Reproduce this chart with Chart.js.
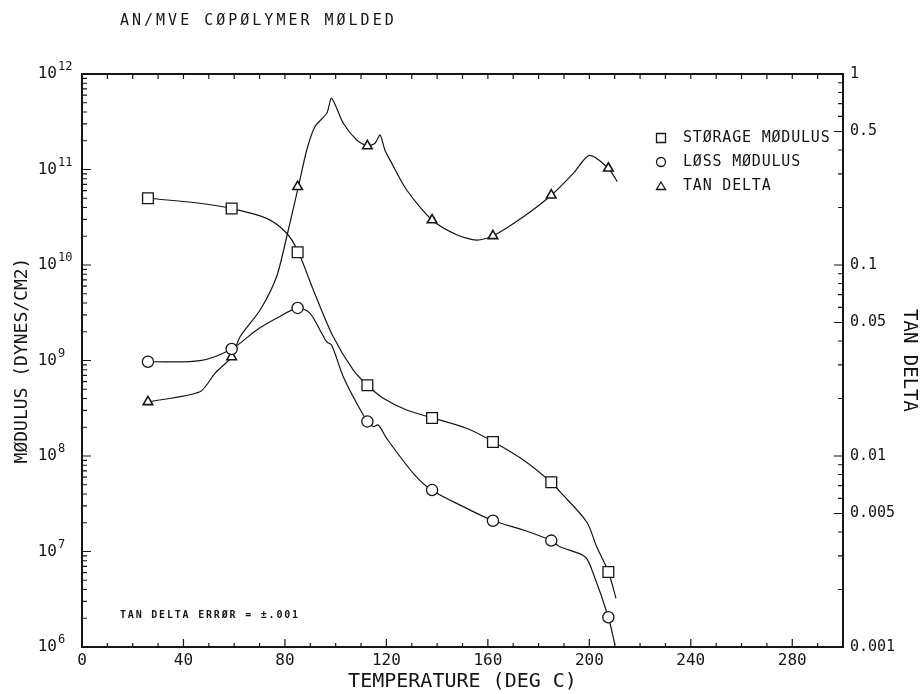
<!DOCTYPE html>
<html>
<head>
<meta charset="utf-8">
<script src="https://cdn.jsdelivr.net/npm/chart.js@4.4.1/dist/chart.umd.min.js"></script>
<style>
    html, body { margin: 0; padding: 0; background: #fff; }
    #wrap { width: 924px; height: 694px; }
</style>
</head>
<body>
<div id="wrap"><canvas id="dma-chart" width="924" height="694"></canvas></div>
<script>
// AN/MVE copolymer, molded - dynamic mechanical scan

const markerTemps = [26, 59, 85, 112.5, 138, 162, 185, 207.5];
const storageMarks = [5.0e10, 3.9e10, 1.36e10, 5.5e8, 2.5e8, 1.4e8, 5.3e7, 6.1e6];
const lossMarks = [9.7e8, 1.32e9, 3.55e9, 2.3e8, 4.4e7, 2.1e7, 1.3e7, 2.05e6];
const tanMarks = [0.0192, 0.033, 0.257, 0.42, 0.172, 0.142, 0.232, 0.321];

const storageCurveT = [26, 46.5, 59, 72.8, 80.7, 85.3, 91.2, 99, 106.9, 112.5, 118.6, 128, 137.8, 151.6, 162.1, 174, 185, 188.4, 198.9, 202.9, 207.5, 210.5];
const storageCurve = [5.0e10, 4.43e10, 3.9e10, 3.08e10, 2.15e10, 1.36e10, 5.47e9, 1.78e9, 7.96e8, 5.5e8, 4.05e8, 3.03e8, 2.52e8, 1.95e8, 1.41e8, 9.08e7, 5.3e7, 4.23e7, 2.05e7, 1.12e7, 6.14e6, 3.24e6];

const lossCurveT = [26, 46.5, 59, 68.9, 76.7, 85.3, 89.9, 94.5, 96.5, 98.4, 103, 108.3, 112.5, 114.8, 116.8, 120.1, 130.6, 137.8, 150.3, 162.1, 174, 185, 188.4, 198.3, 201.5, 207.5, 210.1];
const lossCurve = [9.7e8, 9.95e8, 1.32e9, 2.09e9, 2.77e9, 3.55e9, 3.12e9, 1.93e9, 1.57e9, 1.45e9, 6.77e8, 3.56e8, 2.3e8, 2.03e8, 2.11e8, 1.53e8, 6.59e7, 4.4e7, 2.95e7, 2.1e7, 1.68e7, 1.3e7, 1.12e7, 8.83e6, 5.91e6, 2.05e6, 1.05e6];

const tanCurveT = [26, 46.5, 52.4, 59, 62.3, 70.2, 76.7, 80.7, 85.3, 88.6, 91.8, 96.5, 98.4, 103, 108.3, 112.5, 115.5, 117.5, 119.4, 121.4, 128, 138, 147.7, 155.6, 162, 174, 185, 193.7, 200, 207.5, 211];
const tanCurve = [0.0192, 0.0217, 0.0271, 0.033, 0.0421, 0.0581, 0.0868, 0.1406, 0.257, 0.400, 0.530, 0.623, 0.746, 0.552, 0.451, 0.42, 0.434, 0.479, 0.400, 0.355, 0.247, 0.172, 0.144, 0.135, 0.142, 0.179, 0.232, 0.302, 0.375, 0.321, 0.273];

const xTicks = [0, 40, 80, 120, 160, 200, 240, 280];
const modulusTicks = [1e6, 1e7, 1e8, 1e9, 1e10, 1e11, 1e12];
const tanTicks = [0.001, 0.005, 0.01, 0.05, 0.1, 0.5, 1];

const INK = '#151515';
const MONO = "'DejaVu Sans Mono', 'Liberation Mono', monospace";

function toXY(xs, ys) {
    return xs.map((x, i) => ({ x: x, y: ys[i] }));
}

// frame, inward tick marks, exponents, title, legend and the little note
const plotDecor = {
    id: 'plotDecor',
    afterDraw(chart) {
        const { ctx, chartArea: a, scales } = chart;
        const xs = scales.x, yl = scales.y, yr = scales.yTan;
        ctx.save();
        ctx.strokeStyle = INK;
        ctx.fillStyle = INK;

        ctx.lineWidth = 1.2;
        ctx.beginPath();
        for (let t = 0; t <= 300; t += 10) {
            const px = xs.getPixelForValue(t);
            const len = t % 40 === 0 ? 8 : 4;
            ctx.moveTo(px, a.bottom); ctx.lineTo(px, a.bottom - len);
            ctx.moveTo(px, a.top); ctx.lineTo(px, a.top + 5);
        }
        for (let d = 6; d < 12; d++) {
            for (let m = 1; m <= 9; m++) {
                const py = yl.getPixelForValue(m * Math.pow(10, d));
                ctx.moveTo(a.left, py); ctx.lineTo(a.left + (m === 1 ? 9 : 5), py);
            }
        }
        for (let d = -3; d < 0; d++) {
            for (let m = 1; m <= 9; m++) {
                const py = yr.getPixelForValue(m * Math.pow(10, d));
                ctx.moveTo(a.right, py); ctx.lineTo(a.right - (m === 1 || m === 5 ? 9 : 5), py);
            }
        }
        ctx.stroke();

        ctx.lineWidth = 2;
        ctx.strokeRect(a.left, a.top, a.right - a.left, a.bottom - a.top);

        // exponents of the modulus decades
        ctx.textAlign = 'left';
        ctx.textBaseline = 'middle';
        ctx.font = '12px ' + MONO;
        modulusTicks.forEach(v => {
            const py = yl.getPixelForValue(v);
            ctx.fillText(String(Math.round(Math.log10(v))), a.left - 24, py - 7);
        });

        ctx.letterSpacing = '3px';
        ctx.font = '15px ' + MONO;
        ctx.fillText('AN/MVE CØPØLYMER MØLDED', 120, 21);

        // legend
        ctx.letterSpacing = '0.8px';
        ctx.font = '15px ' + MONO;
        const items = ['STØRAGE MØDULUS', 'LØSS MØDULUS', 'TAN DELTA'];
        const lx = 661, ly = 138;
        ctx.lineWidth = 1.3;
        items.forEach((txt, i) => {
            const y = ly + i * 24;
            ctx.beginPath();
            if (i === 0) ctx.rect(lx - 4.5, y - 4.5, 9, 9);
            else if (i === 1) ctx.arc(lx, y, 4.5, 0, Math.PI * 2);
            else { ctx.moveTo(lx, y - 4); ctx.lineTo(lx + 4.5, y + 3.5); ctx.lineTo(lx - 4.5, y + 3.5); ctx.closePath(); }
            ctx.stroke();
            ctx.fillText(txt, 683, y);
        });

        ctx.letterSpacing = '1.8px';
        ctx.font = 'bold 10px ' + MONO;
        ctx.fillText('TAN DELTA ERRØR = \u00b1.001', 120, 615);
        ctx.restore();
    }
};

const ctx = document.getElementById('dma-chart').getContext('2d');

new Chart(ctx, {
    type: 'scatter',
    data: {
        datasets: [
            {
                label: 'STØRAGE MØDULUS',
                data: toXY(markerTemps, storageMarks),
                yAxisID: 'y',
                pointStyle: 'rect',
                pointRadius: 7.6,
                pointBackgroundColor: '#fff',
                pointBorderColor: INK,
                pointBorderWidth: 1.3
            },
            {
                label: 'LØSS MØDULUS',
                data: toXY(markerTemps, lossMarks),
                yAxisID: 'y',
                pointStyle: 'circle',
                pointRadius: 5.6,
                pointBackgroundColor: '#fff',
                pointBorderColor: INK,
                pointBorderWidth: 1.3
            },
            {
                label: 'TAN DELTA',
                data: toXY(markerTemps, tanMarks),
                yAxisID: 'yTan',
                pointStyle: 'triangle',
                pointRadius: 5.5,
                pointBackgroundColor: '#fff',
                pointBorderColor: INK,
                pointBorderWidth: 1.6
            },
            {
                label: 'storage curve',
                data: toXY(storageCurveT, storageCurve),
                yAxisID: 'y',
                showLine: true,
                borderColor: INK,
                borderWidth: 1.2,
                pointRadius: 0,
                tension: 0.3
            },
            {
                label: 'loss curve',
                data: toXY(lossCurveT, lossCurve),
                yAxisID: 'y',
                showLine: true,
                borderColor: INK,
                borderWidth: 1.2,
                pointRadius: 0,
                tension: 0.3
            },
            {
                label: 'tan curve',
                data: toXY(tanCurveT, tanCurve),
                yAxisID: 'yTan',
                showLine: true,
                borderColor: INK,
                borderWidth: 1.2,
                pointRadius: 0,
                tension: 0.25
            }
        ]
    },
    options: {
        responsive: false,
        animation: false,
        layout: { padding: { top: 74, left: 0, right: 0, bottom: 0 } },
        plugins: {
            legend: { display: false },
            tooltip: { enabled: false }
        },
        scales: {
            x: {
                type: 'linear',
                min: 0,
                max: 300,
                afterBuildTicks: s => { s.ticks = xTicks.map(v => ({ value: v })); },
                afterFit: s => { s.height = 47; },
                grid: { display: false, drawTicks: false },
                border: { display: false },
                ticks: { color: INK, font: { family: MONO, size: 16 }, padding: 4, maxRotation: 0, autoSkip: false },
                title: { display: true, text: 'TEMPERATURE (DEG C)', color: INK, font: { family: MONO, size: 20 }, padding: { top: 0, bottom: 0 } }
            },
            y: {
                type: 'logarithmic',
                position: 'left',
                min: 1e6,
                max: 1e12,
                afterBuildTicks: s => { s.ticks = modulusTicks.map(v => ({ value: v })); },
                afterFit: s => { s.width = 82; },
                grid: { display: false, drawTicks: false },
                border: { display: false },
                ticks: { color: INK, font: { family: MONO, size: 16 }, padding: 25, autoSkip: false, callback: () => '10' },
                title: { display: true, text: 'MØDULUS (DYNES/CM2)', color: INK, font: { family: MONO, size: 18 }, padding: { top: 12, bottom: 0 } }
            },
            yTan: {
                type: 'logarithmic',
                position: 'right',
                min: 0.001,
                max: 1,
                afterBuildTicks: s => { s.ticks = tanTicks.map(v => ({ value: v })); },
                afterFit: s => { s.width = 81; },
                grid: { display: false, drawTicks: false },
                border: { display: false },
                ticks: { color: INK, font: { family: MONO, size: 15 }, padding: 7, autoSkip: false, callback: v => String(v) },
                title: { display: true, text: 'TAN DELTA', color: INK, font: { family: MONO, size: 19 }, padding: { top: 4, bottom: 0 } }
            }
        }
    },
    plugins: [plotDecor]
});
</script>
</body>
</html>
